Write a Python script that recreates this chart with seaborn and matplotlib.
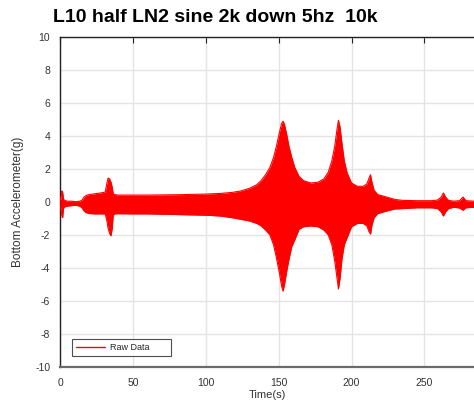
import matplotlib
matplotlib.use("Agg")
import matplotlib.pyplot as plt
import numpy as np
import pandas as pd
import seaborn as sns
from matplotlib.lines import Line2D

# Envelope of the raw accelerometer trace (g) over time (s)
time_s = [0, 0.8, 1.3, 1.8, 2.4, 3, 5, 8, 11, 13.5, 15, 16.5, 18, 20, 24, 28, 31,
          32.3, 33, 34, 35, 35.8, 36.5, 37.5, 40, 50, 60, 70, 80, 90, 100, 110, 118,
          124, 130, 135, 138, 141, 144, 146.5, 148.5, 150.5, 152, 153, 154, 155.5,
          157, 159, 161, 164, 167, 172, 177, 181, 184, 186.5, 188.5, 190, 191, 192,
          193.5, 195, 197, 200, 204, 208, 210.5, 212, 213, 214, 215.5, 218, 222,
          226, 230, 235, 245, 255, 259, 261.5, 263, 264.5, 266.5, 270, 274, 276.5,
          278.5, 284]
upper_g = [0.05, 0.3, 0.67, 0.6, 0.2, 0.1, 0.05, 0.05, 0.02, 0.05, 0.1, 0.3, 0.4,
           0.45, 0.5, 0.55, 0.6,
           1.2, 1.45, 1.4, 1.2, 0.9, 0.5, 0.45, 0.42, 0.42, 0.42, 0.43, 0.44, 0.46,
           0.48, 0.52, 0.58,
           0.67, 0.83, 1.05, 1.3, 1.65, 2.1, 2.7, 3.4, 4.2, 4.75, 4.9, 4.7, 4.1,
           3.4, 2.7, 2.1, 1.55, 1.3, 1.15, 1.2, 1.4, 1.8, 2.5, 3.4, 4.4, 4.95, 4.6,
           3.5, 2.5, 1.75, 1.15, 0.95, 0.95, 1.1, 1.45, 1.65, 1.2, 0.7, 0.45, 0.35,
           0.25, 0.15, 0.1, 0.08, 0.08, 0.12, 0.3, 0.55, 0.3, 0.1, 0.05, 0.08, 0.3,
           0.08, 0.05]
lower_g = [-0.2, -0.5, -0.85, -0.95, -0.4, -0.3, -0.25, -0.22, -0.2, -0.25, -0.35,
           -0.55, -0.65, -0.7, -0.72, -0.72, -0.72,
           -1.2, -1.6, -1.9, -2.05, -1.6, -0.8, -0.72, -0.71, -0.72, -0.72, -0.74,
           -0.76, -0.78, -0.8, -0.85, -0.95,
           -1.05, -1.15, -1.3, -1.45, -1.7, -2.0, -2.6, -3.4, -4.3, -5.1, -5.4,
           -5.0, -4.2, -3.5, -2.7, -2.3, -1.65, -1.5, -1.45, -1.5, -1.7, -2.0, -2.6,
           -3.6, -4.6, -5.27, -4.7, -3.4, -2.6, -2.15, -1.5, -1.3, -1.3, -1.45, -1.8,
           -1.95, -1.4, -0.95, -0.7, -0.6, -0.5, -0.42, -0.4, -0.35, -0.35, -0.4,
           -0.6, -0.85, -0.6, -0.4, -0.32, -0.36, -0.5, -0.35, -0.32]

x_ticks = [0, 50, 100, 150, 200, 250]
y_ticks = [-10, -8, -6, -4, -2, 0, 2, 4, 6, 8, 10]

sns.set_style("white")
plt.rcParams["font.family"] = ["Liberation Sans", "DejaVu Sans"]
plt.rcParams["axes.unicode_minus"] = False

W, H = 474, 403
fig = plt.figure(figsize=(W / 100, H / 100), dpi=100)
ax = fig.add_axes([60 / W, 1 - 367 / H, 414 / W, 330 / H])

df = pd.DataFrame({"Time(s)": time_s, "upper": upper_g, "lower": lower_g})
red = "#ff0000"
ax.fill_between(df["Time(s)"], df["lower"], df["upper"], color=red, linewidth=0,
                zorder=3)
sns.lineplot(data=df, x="Time(s)", y="upper", color=red, lw=0.8, ax=ax,
             legend=False, zorder=3)
sns.lineplot(data=df, x="Time(s)", y="lower", color=red, lw=0.8, ax=ax,
             legend=False, zorder=3)

ax.set_xlim(0, 284)
ax.set_ylim(-10, 10)
ax.set_xticks(x_ticks)
ax.set_yticks(y_ticks)
ax.set_xticklabels([str(v) for v in x_ticks])
ax.set_yticklabels([str(v) for v in y_ticks])
ax.grid(True, color="#e4e4e4", lw=1, zorder=0)
ax.set_axisbelow(True)
ax.tick_params(direction="in", length=4, width=0.8, labelsize=7.5,
               labelcolor="#333333", color="#222222", top=True)
ax.tick_params(axis="x", pad=8)
ax.tick_params(axis="y", pad=7)

for side in ("left", "top"):
    ax.spines[side].set_color("#222222")
    ax.spines[side].set_linewidth(1)
ax.spines["bottom"].set_color("#6a6a6a")
ax.spines["bottom"].set_linewidth(1.6)
ax.spines["right"].set_visible(False)

ax.set_xlabel("Time(s)", fontsize=8, color="#333333", labelpad=1.5)
ax.set_ylabel("Bottom Accelerometer(g)", fontsize=8.5, color="#333333",
              labelpad=8)

handle = Line2D([], [], color=red, lw=1)
leg = ax.legend([handle], ["Raw Data"], loc="lower left",
                bbox_to_anchor=(0.029, 0.033), borderaxespad=0, fontsize=6.5,
                frameon=True, fancybox=False, edgecolor="#222222",
                handlelength=3.2, handletextpad=0.6, borderpad=0.45)
leg.get_frame().set_linewidth(0.8)
leg.get_texts()[0].set_text("Raw Data       ")

fig.text(53 / W, 1 - 18 / H, "L10 half LN2 sine 2k down 5hz  10k",
         fontsize=14.0, fontweight="bold", va="center", ha="left", color="black")

fig.savefig("out.png", dpi=100)
